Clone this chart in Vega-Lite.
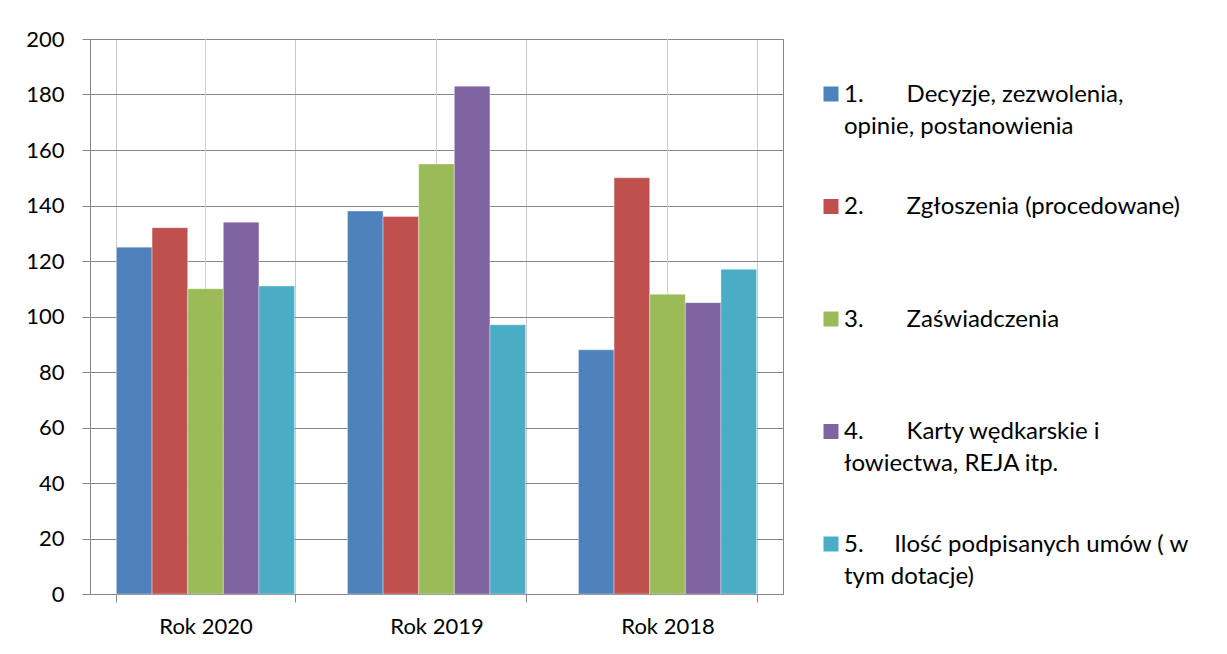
{
  "$schema": "https://vega.github.io/schema/vega-lite/v6.json",
  "width": 693,
  "height": 555,
  "autosize": {"type": "none"},
  "padding": {"left": 90, "top": 39, "right": 444, "bottom": 60},
  "background": "white",
  "config": {
    "font": "Lato",
    "view": {"stroke": "#868686", "strokeWidth": 1},
    "style": {"guide-label": {"lineHeight": 32}}
  },
  "data": {
    "values": [
      {"rok": "Rok 2020", "kat": "1. Decyzje, zezwolenia, opinie, postanowienia", "n": 125},
      {"rok": "Rok 2020", "kat": "2. Zgłoszenia (procedowane)", "n": 132},
      {"rok": "Rok 2020", "kat": "3. Zaświadczenia", "n": 110},
      {"rok": "Rok 2020", "kat": "4. Karty wędkarskie i łowiectwa, REJA itp.", "n": 134},
      {"rok": "Rok 2020", "kat": "5. Ilość podpisanych umów ( w tym dotacje)", "n": 111},
      {"rok": "Rok 2019", "kat": "1. Decyzje, zezwolenia, opinie, postanowienia", "n": 138},
      {"rok": "Rok 2019", "kat": "2. Zgłoszenia (procedowane)", "n": 136},
      {"rok": "Rok 2019", "kat": "3. Zaświadczenia", "n": 155},
      {"rok": "Rok 2019", "kat": "4. Karty wędkarskie i łowiectwa, REJA itp.", "n": 183},
      {"rok": "Rok 2019", "kat": "5. Ilość podpisanych umów ( w tym dotacje)", "n": 97},
      {"rok": "Rok 2018", "kat": "1. Decyzje, zezwolenia, opinie, postanowienia", "n": 88},
      {"rok": "Rok 2018", "kat": "2. Zgłoszenia (procedowane)", "n": 150},
      {"rok": "Rok 2018", "kat": "3. Zaświadczenia", "n": 108},
      {"rok": "Rok 2018", "kat": "4. Karty wędkarskie i łowiectwa, REJA itp.", "n": 105},
      {"rok": "Rok 2018", "kat": "5. Ilość podpisanych umów ( w tym dotacje)", "n": 117}
    ]
  },
  "encoding": {
    "x": {
      "field": "rok",
      "type": "nominal",
      "sort": ["Rok 2020", "Rok 2019", "Rok 2018"],
      "scale": {"paddingInner": 0.229, "paddingOuter": 0.1145},
      "axis": {
        "title": null,
        "labelAngle": 0,
        "labelFontSize": 22,
        "labelColor": "#000000",
        "labelPadding": 14,
        "tickBand": "extent",
        "tickSize": 8,
        "tickColor": "#868686",
        "domainColor": "#868686",
        "grid": true,
        "gridColor": "#c8c8c8",
        "zindex": 0
      }
    }
  },
  "layer": [
    {
      "mark": {"type": "rule", "color": "#cfcfcf", "strokeWidth": 1},
      "encoding": {}
    },
    {
      "mark": {"type": "bar", "stroke": "#ffffff", "strokeWidth": 0.6, "strokeOpacity": 0.6},
      "encoding": {
        "xOffset": {
          "field": "kat",
          "type": "nominal",
          "scale": {"paddingInner": 0, "paddingOuter": 0}
        },
        "y": {
          "field": "n",
          "type": "quantitative",
          "scale": {"domain": [0, 200], "nice": false},
          "axis": {
            "title": null,
            "values": [0, 20, 40, 60, 80, 100, 120, 140, 160, 180, 200],
            "labelFontSize": 22,
            "labelColor": "#000000",
            "labelPadding": 18,
            "tickSize": 8,
            "tickColor": "#868686",
            "domainColor": "#868686",
            "gridColor": "#868686",
            "gridOpacity": 1,
            "zindex": 0
          }
        },
        "color": {
          "field": "kat",
          "type": "nominal",
          "scale": {
            "domain": [
              "1. Decyzje, zezwolenia, opinie, postanowienia",
              "2. Zgłoszenia (procedowane)",
              "3. Zaświadczenia",
              "4. Karty wędkarskie i łowiectwa, REJA itp.",
              "5. Ilość podpisanych umów ( w tym dotacje)"
            ],
            "range": ["#4F81BD", "#C0504D", "#9BBB59", "#8064A2", "#4BACC6"]
          },
          "legend": {
            "title": null,
            "orient": "none",
            "legendX": 729,
            "legendY": 50.5,
            "padding": 0,
            "symbolType": "M-1,-2H1V0H-1Z",
            "symbolSize": 225,
            "symbolStrokeWidth": 0,
            "labelFontSize": 24,
            "labelColor": "#000000",
            "labelOffset": 1,
            "labelLimit": 500,
            "labelBaseline": "alphabetic",
            "rowPadding": 56.5,
            "labelExpr": "datum.label == '1. Decyzje, zezwolenia, opinie, postanowienia' ? ['1.\u00a0\u00a0\u00a0\u00a0\u00a0\u00a0\u00a0Decyzje, zezwolenia,', 'opinie, postanowienia'] : datum.label == '2. Zgłoszenia (procedowane)' ? ['2.\u00a0\u00a0\u00a0\u00a0\u00a0\u00a0\u00a0Zgłoszenia (procedowane)', '\u00a0'] : datum.label == '3. Zaświadczenia' ? ['3.\u00a0\u00a0\u00a0\u00a0\u00a0\u00a0\u00a0Zaświadczenia', '\u00a0'] : datum.label == '4. Karty wędkarskie i łowiectwa, REJA itp.' ? ['4.\u00a0\u00a0\u00a0\u00a0\u00a0\u00a0\u00a0Karty wędkarskie i', 'łowiectwa, REJA itp.'] : ['5.\u00a0\u00a0\u00a0\u00a0\u00a0Ilość podpisanych umów ( w', 'tym dotacje)']"
          }
        }
      }
    }
  ]
}
